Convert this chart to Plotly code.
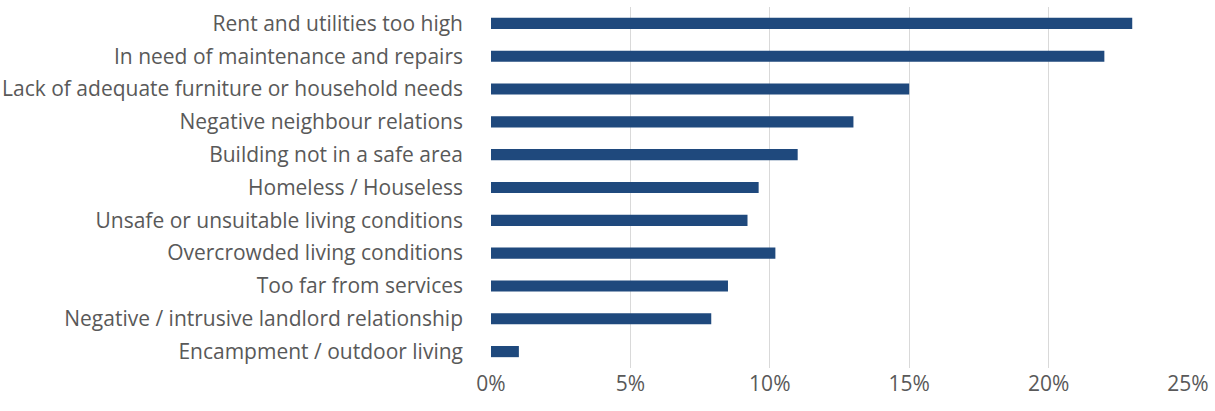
import plotly.graph_objects as go

# Reported housing problems (share of respondents)
categories = [
    "Rent and utilities too high",
    "In need of maintenance and repairs",
    "Lack of adequate furniture or household needs",
    "Negative neighbour relations",
    "Building not in a safe area",
    "Homeless / Houseless",
    "Unsafe or unsuitable living conditions",
    "Overcrowded living conditions",
    "Too far from services",
    "Negative / intrusive landlord relationship",
    "Encampment / outdoor living",
]
shares = [0.23, 0.22, 0.15, 0.13, 0.11, 0.096, 0.092, 0.102, 0.085, 0.079, 0.010]
x_ticks = [0, 0.05, 0.10, 0.15, 0.20, 0.25]

fig = go.Figure(
    go.Bar(
        x=shares,
        y=categories,
        orientation="h",
        marker=dict(color="#1F497D", line=dict(width=0)),
        hoverinfo="x+y",
    )
)

fig.update_layout(
    width=1215,
    height=411,
    margin=dict(l=491, r=27, t=7, b=43),
    paper_bgcolor="white",
    plot_bgcolor="white",
    bargap=0.66,
    showlegend=False,
    font=dict(family="Open Sans, sans-serif", size=21, color="#595959"),
)

fig.update_xaxes(
    range=[0, 0.25],
    tickvals=x_ticks,
    tickformat=".0%",
    showgrid=True,
    gridcolor="#D9D9D9",
    gridwidth=1,
    zeroline=False,
    showline=False,
    ticks="",
    ticklabelstandoff=1,
    automargin=False,
)

fig.update_yaxes(
    autorange=False,
    range=[len(categories) - 0.5, -0.5],
    showgrid=False,
    zeroline=False,
    showline=False,
    ticks="",
    ticklabelstandoff=27,
    automargin=False,
)

fig.write_html("out.html")
